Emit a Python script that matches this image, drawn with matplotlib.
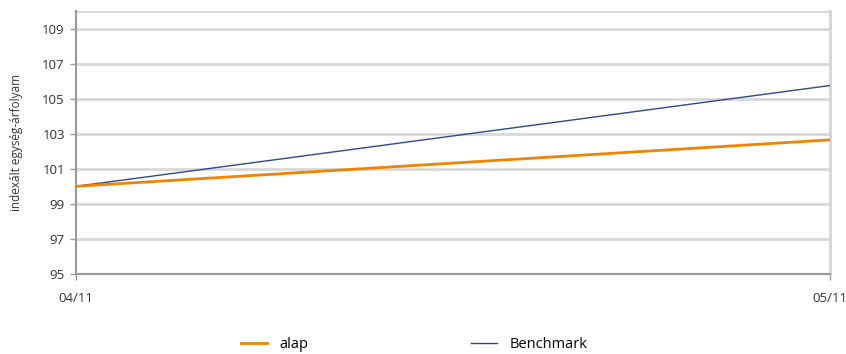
import matplotlib.pyplot as plt
from matplotlib.lines import Line2D

plt.rcParams['font.family'] = ['Open Sans', 'DejaVu Sans']

dates = ['04/11', '05/11']
alap = [100.0, 102.65]
benchmark = [100.0, 105.75]
yticks = [95, 97, 99, 101, 103, 105, 107, 109]

fig = plt.figure(figsize=(8.46, 3.54), dpi=100)
ax = fig.add_axes([76/846, 1 - 274/354, (830-76)/846, (274-11)/354])

x = list(range(len(dates)))
ax.plot(x, benchmark, color='#2b4a8c', lw=1.0, label='Benchmark', zorder=3)
ax.plot(x, alap, color='#f08300', lw=2.0, label='alap', zorder=4)

ax.set_xlim(0, 1)
ax.set_ylim(95, 110)
ax.set_yticks(yticks)
ax.set_yticklabels([str(t) for t in yticks], fontsize=9.5, color='#333333')
ax.set_xticks(x)
ax.set_xticklabels(dates, fontsize=9.5, color='#333333')
for t in [97, 99, 101, 103, 105, 107, 109, 110]:
    ax.axhline(t, color='#d8d8d8', lw=2, zorder=1)

ax.spines['top'].set_visible(False)
ax.spines['right'].set_color('#d4d4d4')
ax.spines['right'].set_linewidth(2)
ax.spines['left'].set_color('#999999')
ax.spines['left'].set_linewidth(1.5)
ax.spines['bottom'].set_color('#999999')
ax.spines['bottom'].set_linewidth(1.5)
ax.tick_params(axis='both', length=4, width=1, color='#999999', pad=4)
ax.tick_params(axis='x', pad=9)
ax.set_ylabel('indexált egység-árfolyam', fontsize=8.5, color='#333333', labelpad=14)

handles = [Line2D([], [], color='#f08300', lw=2),
           Line2D([], [], color='#2b4a8c', lw=1)]
fig.legend(handles, ['alap', 'Benchmark'], loc='center', bbox_to_anchor=(414/846, 1 - 345/354),
           ncol=2, frameon=False, fontsize=10.5, handlelength=1.75, columnspacing=11.2, handletextpad=0.85)

fig.savefig('out.png', dpi=100)
